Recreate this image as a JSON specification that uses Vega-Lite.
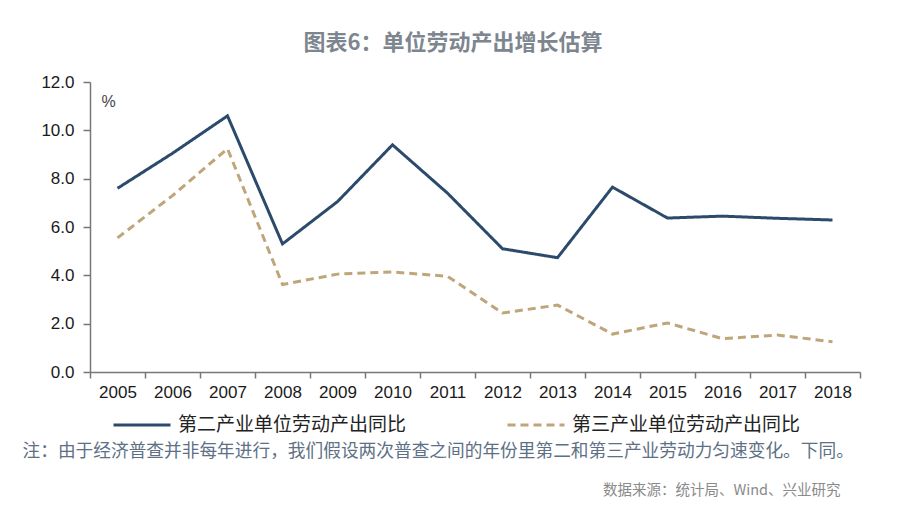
{
  "$schema": "https://vega.github.io/schema/vega-lite/v6.json",
  "width": 770,
  "height": 290,
  "autosize": {"type": "none"},
  "padding": {"left": 90, "top": 82, "right": 40, "bottom": 136},
  "background": "white",
  "title": {
    "text": "图表6：单位劳动产出增长估算",
    "font": "Noto Sans CJK SC",
    "fontSize": 22,
    "fontWeight": "bold",
    "color": "#7d868f",
    "anchor": "middle",
    "frame": "group",
    "dx": -22,
    "offset": 18
  },
  "data": {
    "values": [
      {"year": "2005", "series": "第二产业单位劳动产出同比", "value": 7.6},
      {"year": "2006", "series": "第二产业单位劳动产出同比", "value": 9.05},
      {"year": "2007", "series": "第二产业单位劳动产出同比", "value": 10.6},
      {"year": "2008", "series": "第二产业单位劳动产出同比", "value": 5.3},
      {"year": "2009", "series": "第二产业单位劳动产出同比", "value": 7.05},
      {"year": "2010", "series": "第二产业单位劳动产出同比", "value": 9.4},
      {"year": "2011", "series": "第二产业单位劳动产出同比", "value": 7.4},
      {"year": "2012", "series": "第二产业单位劳动产出同比", "value": 5.1},
      {"year": "2013", "series": "第二产业单位劳动产出同比", "value": 4.73},
      {"year": "2014", "series": "第二产业单位劳动产出同比", "value": 7.65},
      {"year": "2015", "series": "第二产业单位劳动产出同比", "value": 6.37},
      {"year": "2016", "series": "第二产业单位劳动产出同比", "value": 6.45},
      {"year": "2017", "series": "第二产业单位劳动产出同比", "value": 6.36},
      {"year": "2018", "series": "第二产业单位劳动产出同比", "value": 6.29},
      {"year": "2005", "series": "第三产业单位劳动产出同比", "value": 5.55},
      {"year": "2006", "series": "第三产业单位劳动产出同比", "value": 7.3},
      {"year": "2007", "series": "第三产业单位劳动产出同比", "value": 9.24},
      {"year": "2008", "series": "第三产业单位劳动产出同比", "value": 3.62},
      {"year": "2009", "series": "第三产业单位劳动产出同比", "value": 4.05},
      {"year": "2010", "series": "第三产业单位劳动产出同比", "value": 4.14},
      {"year": "2011", "series": "第三产业单位劳动产出同比", "value": 3.96},
      {"year": "2012", "series": "第三产业单位劳动产出同比", "value": 2.44},
      {"year": "2013", "series": "第三产业单位劳动产出同比", "value": 2.77},
      {"year": "2014", "series": "第三产业单位劳动产出同比", "value": 1.57},
      {"year": "2015", "series": "第三产业单位劳动产出同比", "value": 2.03},
      {"year": "2016", "series": "第三产业单位劳动产出同比", "value": 1.38},
      {"year": "2017", "series": "第三产业单位劳动产出同比", "value": 1.53},
      {"year": "2018", "series": "第三产业单位劳动产出同比", "value": 1.25}
    ]
  },
  "encoding": {
    "x": {
      "field": "year",
      "type": "ordinal",
      "bandPosition": 0.5,
      "scale": {"type": "band", "paddingInner": 0, "paddingOuter": 0},
      "axis": {
        "tickBand": "extent",
        "labelAngle": 0,
        "labelFont": "Liberation Sans",
        "labelFontSize": 17,
        "labelColor": "#1a1a1a",
        "labelPadding": 6,
        "domainColor": "#777777",
        "domainWidth": 1.5,
        "tickColor": "#777777",
        "tickWidth": 1.5,
        "tickSize": 6,
        "grid": false,
        "title": "注：由于经济普查并非每年进行，我们假设两次普查之间的年份里第二和第三产业劳动力匀速变化。下同。",
        "titleFont": "Noto Sans CJK SC",
        "titleFontSize": 17.7,
        "titleFontWeight": "normal",
        "titleColor": "#5d7085",
        "titleAngle": 0,
        "titleAlign": "left",
        "titleBaseline": "middle",
        "titleAnchor": null,
        "titleX": -68,
        "titleY": 79
      }
    },
    "color": {
      "field": "series",
      "type": "nominal",
      "scale": {
        "domain": ["第二产业单位劳动产出同比", "第三产业单位劳动产出同比"],
        "range": ["#2c4a6b", "#bfa57a"]
      },
      "legend": {
        "orient": "none",
        "direction": "horizontal",
        "legendX": 22,
        "legendY": 313,
        "title": null,
        "symbolType": "stroke",
        "symbolSize": 3249,
        "symbolStrokeWidth": 3,
        "labelFont": "Noto Sans CJK SC",
        "labelFontSize": 19,
        "labelColor": "#222222",
        "labelOffset": 6,
        "labelLimit": 400,
        "columnPadding": 94
      }
    },
    "strokeDash": {
      "field": "series",
      "type": "nominal",
      "scale": {
        "domain": ["第二产业单位劳动产出同比", "第三产业单位劳动产出同比"],
        "range": [[1, 0], [8, 5]]
      },
      "legend": null
    }
  },
  "layer": [
    {
      "transform": [{"filter": "datum.series === '第二产业单位劳动产出同比'"}],
      "mark": {"type": "line", "strokeWidth": 3},
      "encoding": {
        "y": {
          "field": "value",
          "type": "quantitative",
          "scale": {"domain": [0, 12], "nice": false, "zero": true},
          "axis": {
            "values": [0, 2, 4, 6, 8, 10, 12],
            "format": ".1f",
            "grid": false,
            "labelFont": "Liberation Sans",
            "labelFontSize": 17,
            "labelColor": "#1a1a1a",
            "labelPadding": 9,
            "domainColor": "#777777",
            "domainWidth": 1.5,
            "tickColor": "#777777",
            "tickWidth": 1.5,
            "tickSize": 7,
            "title": "%",
            "titleFont": "Liberation Sans",
            "titleFontSize": 16,
            "titleFontWeight": "normal",
            "titleColor": "#444444",
            "titleAngle": 0,
            "titleAlign": "center",
            "titleBaseline": "middle",
            "titleAnchor": null,
            "titleX": 18,
            "titleY": 19
          }
        }
      }
    },
    {
      "transform": [{"filter": "datum.series === '第三产业单位劳动产出同比'"}],
      "mark": {"type": "line", "strokeWidth": 3},
      "encoding": {
        "y": {
          "field": "value",
          "type": "quantitative",
          "scale": {"domain": [0, 12], "nice": false, "zero": true},
          "axis": {
            "orient": "right",
            "labels": false,
            "ticks": false,
            "domain": false,
            "grid": false,
            "title": "数据来源：统计局、Wind、兴业研究",
            "titleFont": "Noto Sans CJK SC",
            "titleFontSize": 14.5,
            "titleFontWeight": "normal",
            "titleColor": "#8a8a8a",
            "titleAngle": 0,
            "titleAlign": "right",
            "titleBaseline": "middle",
            "titleAnchor": null,
            "titleX": -20,
            "titleY": 408
          }
        }
      }
    }
  ],
  "resolve": {"scale": {"y": "independent"}, "axis": {"y": "independent"}},
  "config": {"view": {"stroke": null}}
}
